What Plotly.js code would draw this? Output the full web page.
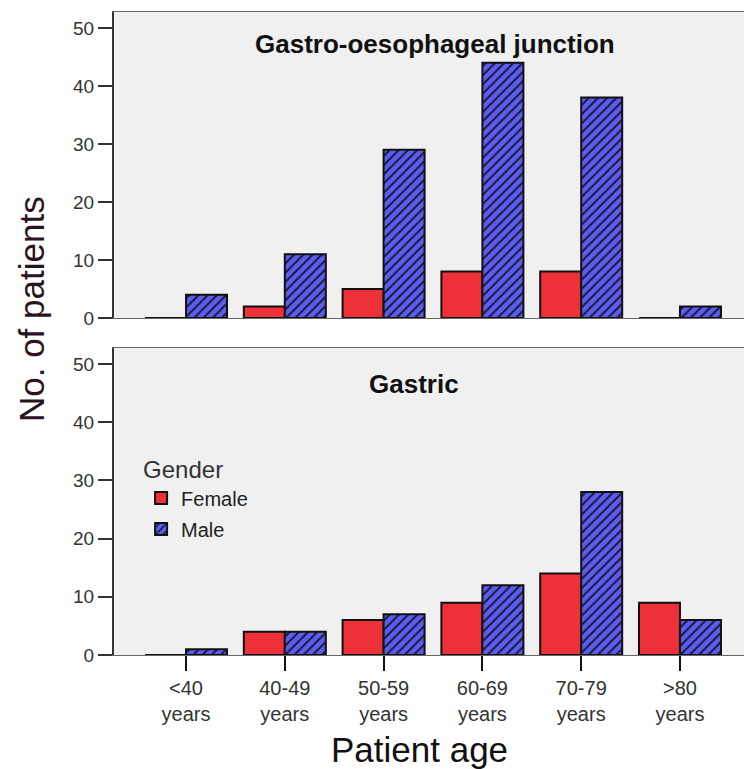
<!DOCTYPE html>
<html>
<head>
<meta charset="utf-8">
<script src="https://cdn.plot.ly/plotly-3.0.1.min.js"></script>
<style>html,body{margin:0;padding:0;background:#fff;}#chart{width:744px;height:769px;}</style>
</head>
<body>
<div id="chart"></div>
<script>
const categories = ["<40<br>years", "40-49<br>years", "50-59<br>years", "60-69<br>years", "70-79<br>years", ">80<br>years"];
const gojFemale = [0, 2, 5, 8, 8, 0];
const gojMale = [4, 11, 29, 44, 38, 2];
const gastricFemale = [0, 4, 6, 9, 14, 9];
const gastricMale = [1, 4, 7, 12, 28, 6];
const yTicks = [0, 10, 20, 30, 40, 50];

const RED = "#ee3039";
const BLUE = "#5c5cf4";
const FONT = "Liberation Sans, Arial, sans-serif";

function femaleTrace(y, xa, ya, show) {
  return {type: "bar", name: "Female", x: categories, y: y, xaxis: xa, yaxis: ya,
    showlegend: show, legendgroup: "f",
    marker: {color: RED, line: {color: "#111", width: 2}}, hoverinfo: "y"};
}
function maleTrace(y, xa, ya, show) {
  return {type: "bar", name: "Male", x: categories, y: y, xaxis: xa, yaxis: ya,
    showlegend: show, legendgroup: "m",
    marker: {color: BLUE, line: {color: "#111", width: 2},
      pattern: {shape: "/", fgcolor: "#181830", bgcolor: BLUE, size: 6.5, solidity: 0.3}},
    hoverinfo: "y"};
}

const data = [
  femaleTrace(gojFemale, "x2", "y2", false),
  maleTrace(gojMale, "x2", "y2", false),
  femaleTrace(gastricFemale, "x", "y", true),
  maleTrace(gastricMale, "x", "y", true)
];

const xRange = [-0.729, 5.648];
const yRange = [0, 52.76];

const yaxisCommon = {
  range: yRange, tickvals: yTicks, ticks: "outside", ticklen: 14, tickwidth: 2,
  tickcolor: "#333", showline: true, linecolor: "#333", linewidth: 2,
  showgrid: false, zeroline: false, fixedrange: true,
  tickfont: {family: FONT, size: 19, color: "#333"}
};

const layout = {
  width: 744, height: 769,
  margin: {l: 114, r: 0, t: 12, b: 114},
  paper_bgcolor: "#ffffff",
  plot_bgcolor: "#f0f0f0",
  barmode: "group", bargap: 0.17, bargroupgap: 0,
  font: {family: FONT, color: "#222"},
  xaxis: {
    domain: [0, 1], anchor: "y", type: "category", range: xRange,
    ticks: "outside", ticklen: 15, tickwidth: 2, tickcolor: "#111",
    showline: true, linecolor: "#666", linewidth: 1, mirror: true,
    showgrid: false, zeroline: false,
    tickfont: {family: FONT, size: 20, color: "#333"}
  },
  yaxis: Object.assign({domain: [0, 0.4774], anchor: "x"}, yaxisCommon),
  xaxis2: {
    domain: [0, 1], anchor: "y2", type: "category", range: xRange,
    showticklabels: false, ticks: "",
    showline: true, linecolor: "#666", linewidth: 1, mirror: true,
    showgrid: false, zeroline: false
  },
  yaxis2: Object.assign({domain: [0.5241, 1], anchor: "x2"}, yaxisCommon),
  legend: {
    x: 0.043, y: 0.323, xanchor: "left", yanchor: "top",
    bgcolor: "rgba(0,0,0,0)", borderwidth: 0,
    title: {text: "Gender", font: {family: FONT, size: 24, color: "#333"}},
    font: {family: FONT, size: 20, color: "#222"},
    tracegroupgap: 2
  },
  annotations: [
    {text: "<b>Gastro-oesophageal junction</b>", xref: "paper", yref: "paper",
      x: 0.510, y: 0.951, xanchor: "center", yanchor: "middle", showarrow: false,
      font: {family: FONT, size: 26, color: "#111"}},
    {text: "<b>Gastric</b>", xref: "paper", yref: "paper",
      x: 0.476, y: 0.421, xanchor: "center", yanchor: "middle", showarrow: false,
      font: {family: FONT, size: 26, color: "#111"}},
    {text: "No. of patients", xref: "paper", yref: "paper",
      x: -0.1318, y: 0.538, xanchor: "center", yanchor: "middle", showarrow: false,
      textangle: -90, font: {family: FONT, size: 35, color: "#2a1420"}},
    {text: "Patient age", xref: "paper", yref: "paper",
      x: 0.4857, y: -0.1477, xanchor: "center", yanchor: "middle", showarrow: false,
      font: {family: FONT, size: 35, color: "#111"}}
  ]
};

Plotly.newPlot("chart", data, layout, {displayModeBar: false, staticPlot: true});
</script>
</body>
</html>
